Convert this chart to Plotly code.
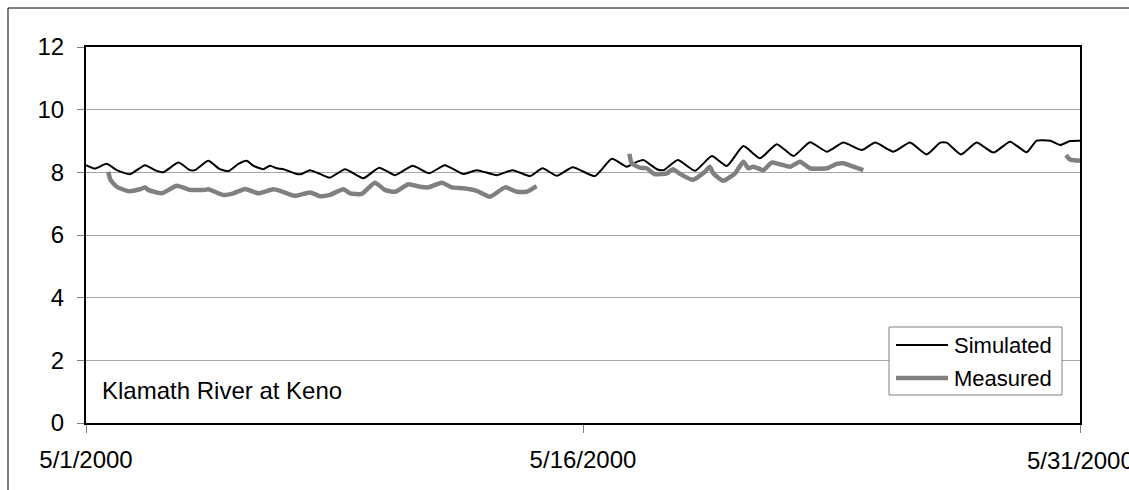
import pandas as pd
import plotly.graph_objects as go

# Day offsets from 5/1/2000 and values for each series
START = pd.Timestamp("2000-05-01")

sim_days = [0, 0.27, 0.62, 0.93, 1.33, 1.78, 2.08, 2.33, 2.79, 3.14, 3.29, 3.69, 4.04, 4.30,
            4.60, 4.85, 5.05, 5.35, 5.55, 5.76, 5.96, 6.36, 6.51, 6.76, 7.06, 7.36, 7.82, 8.37,
            8.85, 9.33, 9.86, 10.36, 10.83, 11.39, 11.79, 12.40, 12.88, 13.40, 13.78, 14.21,
            14.69, 15.36, 15.87, 16.32, 16.57, 16.82, 17.23, 17.43, 17.86, 18.38, 18.89, 19.34,
            19.84, 20.34, 20.85, 21.35, 21.85, 22.36, 22.86, 23.41, 23.82, 24.37, 24.87, 25.37,
            25.78, 25.98, 26.41, 26.88, 27.39, 27.89, 28.39, 28.69, 29.10, 29.40, 29.70, 30.0]
sim_vals = [8.23, 8.12, 8.27, 8.07, 7.94, 8.23, 8.07, 8.00, 8.31, 8.07, 8.07, 8.37, 8.10, 8.04,
            8.27, 8.37, 8.21, 8.10, 8.21, 8.13, 8.10, 7.95, 7.95, 8.07, 7.95, 7.83, 8.10, 7.81,
            8.15, 7.91, 8.21, 7.97, 8.23, 7.95, 8.07, 7.91, 8.07, 7.88, 8.13, 7.89,
            8.16, 7.88, 8.43, 8.18, 8.31, 8.39, 8.10, 8.07, 8.39, 8.05, 8.52, 8.20,
            8.84, 8.45, 8.90, 8.52, 8.96, 8.66, 8.95, 8.71, 8.95, 8.66, 8.95, 8.57,
            8.95, 8.95, 8.57, 8.95, 8.63, 8.98, 8.64, 9.01, 9.01, 8.87, 9.00, 9.01]

# Measured record, with None marking the gaps between logger deployments
meas_days = [0.67, 0.74, 0.93, 1.28, 1.63, 1.78, 1.88, 2.28, 2.74, 3.14, 3.59, 3.69, 4.14, 4.45,
             4.80, 5.20, 5.65, 5.86, 6.30, 6.76, 7.06, 7.36, 7.77, 7.97, 8.32, 8.72, 9.02, 9.33,
             9.73, 10.08, 10.33, 10.74, 11.04, 11.39, 11.79, 12.19, 12.65, 13.00, 13.30, 13.60,
             15.0,
             16.40, 16.47, 16.72, 16.92, 17.17, 17.53, 17.71, 17.93, 18.31, 18.68, 18.83, 18.93,
             19.23, 19.59, 19.84, 19.99, 20.14, 20.44, 20.69, 20.94, 21.25, 21.55, 21.85, 22.36,
             22.66, 22.86, 23.16, 23.46,
             26.0,
             29.58, 29.70, 30.0]
meas_vals = [8.02, 7.76, 7.54, 7.40, 7.46, 7.52, 7.44, 7.33, 7.57, 7.44, 7.44, 7.46, 7.28, 7.33,
             7.47, 7.33, 7.46, 7.41, 7.25, 7.36, 7.24, 7.28, 7.46, 7.33, 7.31, 7.67, 7.44, 7.38,
             7.62, 7.54, 7.52, 7.67, 7.52, 7.49, 7.41, 7.22, 7.52, 7.38, 7.38, 7.56,
             None,
             8.59, 8.29, 8.15, 8.13, 7.94, 7.97, 8.10, 7.95, 7.76, 8.02, 8.18, 7.97,
             7.73, 7.97, 8.34, 8.13, 8.18, 8.07, 8.31, 8.26, 8.18, 8.34, 8.13, 8.13,
             8.27, 8.29, 8.18, 8.07,
             None,
             8.55, 8.41, 8.37]

series_names = ["Simulated", "Measured"]
series_colors = ["black", "#808080"]
series_widths = [2, 4.5]

tick_dates = ["2000-05-01", "2000-05-16", "2000-05-31"]
tick_labels = ["5/1/2000", "5/16/2000", "5/31/2000"]
y_ticks = [0, 2, 4, 6, 8, 10, 12]


def to_time(days):
    return [START + pd.Timedelta(days=d) for d in days]


FAMILY = "Liberation Sans, Arial, sans-serif"
AXIS_FONT = dict(family=FAMILY, size=24, color="black")
LEGEND_FONT = dict(family=FAMILY, size=22, color="black")

fig = go.Figure()
for days, vals, name, color, width in [(sim_days, sim_vals, series_names[0], series_colors[0], series_widths[0]),
                                       (meas_days, meas_vals, series_names[1], series_colors[1], series_widths[1])]:
    fig.add_trace(go.Scatter(x=to_time(days), y=vals, mode="lines", name=name,
                             line=dict(color=color, width=width, shape="spline", smoothing=0.5),
                             connectgaps=False, showlegend=False))

W, H = 1129, 490
L, R, T, B = 86, 49, 47, 67
pw, ph = W - L - R, H - T - B


def px(xp):
    return (xp - L) / pw


def py(yp):
    return (H - B - yp) / ph


# Legend box with line samples and labels
legend_shapes = [dict(type="rect", xref="paper", yref="paper",
                      x0=px(889), x1=px(1062), y0=py(395), y1=py(327),
                      line=dict(color="#808080", width=1), fillcolor="white", layer="above")]
legend_notes = []
for i, (name, color, width) in enumerate(zip(series_names, series_colors, series_widths)):
    yc = 345 + 33 * i
    legend_shapes.append(dict(type="line", xref="paper", yref="paper",
                              x0=px(896), x1=px(948), y0=py(yc), y1=py(yc),
                              line=dict(color=color, width=width), layer="above"))
    legend_notes.append(dict(text=name, xref="paper", yref="paper", x=px(952), y=py(yc),
                             xanchor="left", yanchor="middle", showarrow=False, font=LEGEND_FONT))

# The last date label runs past the page edge, so it is placed as text on the axis
# instead of a tick label (tick labels that overflow are dropped by plotly).
shown_ticktext = tick_labels[:-1] + [""]
edge_label = dict(text=tick_labels[-1], xref="x", yref="paper", x=tick_dates[-1], y=py(460),
                  xanchor="center", yanchor="middle", showarrow=False, font=AXIS_FONT)

fig.update_layout(
    width=W, height=H,
    margin=dict(l=L, r=R, t=T, b=B, autoexpand=False),
    paper_bgcolor="white", plot_bgcolor="white",
    font=AXIS_FONT,
    showlegend=False,
    xaxis=dict(range=[tick_dates[0], tick_dates[-1]], tickvals=tick_dates, ticktext=shown_ticktext,
               showgrid=False, zeroline=False, showline=True, linecolor="black", linewidth=2,
               mirror=True, ticks="outside", ticklen=8, tickcolor="#808080", tickwidth=1,
               automargin=False, ticklabelstandoff=6, tickangle=0, tickfont=AXIS_FONT),
    yaxis=dict(range=[0, 12], tickvals=y_ticks, showgrid=True, gridcolor="#a6a6a6", gridwidth=1,
               zeroline=False, showline=True, linecolor="black", linewidth=2, mirror=True,
               ticks="outside", ticklen=7, tickcolor="#808080", tickwidth=1,
               automargin=False, ticklabelstandoff=8, tickfont=AXIS_FONT),
    annotations=[dict(text="Klamath River at Keno", xref="paper", yref="paper",
                      x=px(100), y=py(390), xanchor="left", yanchor="middle",
                      showarrow=False, font=AXIS_FONT), edge_label] + legend_notes,
    shapes=[dict(type="rect", xref="paper", yref="paper",
                 x0=px(8), x1=px(W + 20), y0=py(H + 20), y1=py(8),
                 line=dict(color="black", width=1), fillcolor="rgba(0,0,0,0)", layer="below")]
           + legend_shapes,
)

fig.write_html("out.html")
